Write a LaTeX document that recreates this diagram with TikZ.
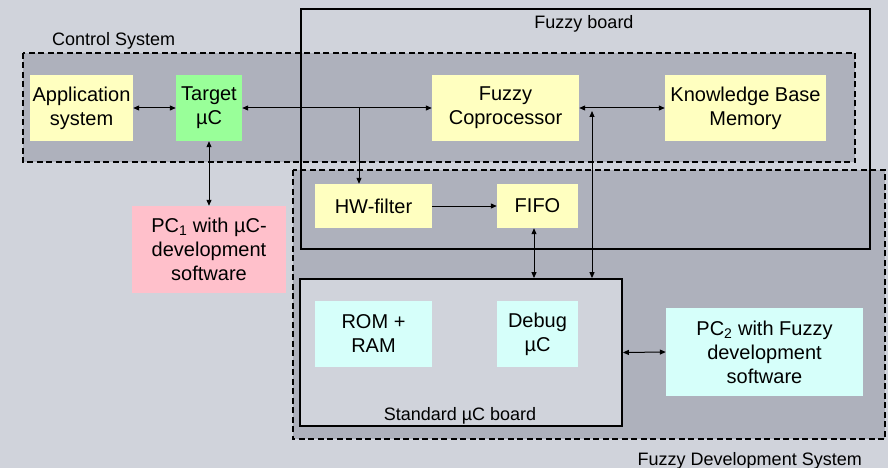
\documentclass[tikz,border=0pt]{standalone}
\usepackage{fontspec}
\setmainfont{Liberation Sans}
\usetikzlibrary{arrows.meta}
\definecolor{bg}{RGB}{208,211,219}
\definecolor{zone}{RGB}{174,177,188}
\definecolor{ylw}{RGB}{255,255,192}
\definecolor{grn}{RGB}{153,255,153}
\definecolor{pnk}{RGB}{255,192,203}
\definecolor{cyn}{RGB}{214,255,250}

\begin{document}
\begin{tikzpicture}[x=1pt,y=-1pt,
  blk/.style={inner sep=0pt, align=center, text=black,
    font=\fontsize{20}{24}\selectfont},
  region/.style={inner sep=0pt, draw=none},
  lbl/.style={inner sep=0pt, font=\fontsize{18}{22}\selectfont},
  frame/.style={line width=1.8pt, draw=black},
  dframe/.style={line width=1.8pt, draw=black, dash pattern=on 6pt off 3.5pt},
  tip/.tip={Triangle[length=6pt,width=5pt]},
  sgl/.style={line width=1pt, -tip},
  dbl/.style={line width=1pt, tip-tip}]

% canvas
\useasboundingbox (0,0) rectangle (888,468);
\fill[bg] (0,0) rectangle (888,468);

% shaded system areas
\node[region, fill=zone, minimum width=832pt, minimum height=109pt] (ctrl) at (439,107.5) {};
\node[region, fill=zone, minimum width=592pt, minimum height=269pt] (fds) at (589,304.5) {};
\node[region, minimum width=569pt, minimum height=240pt] (fboard) at (585.5,129) {};

% outlines of the areas
\draw[frame] (fboard.north west) rectangle (fboard.south east);
\draw[dframe] (ctrl.north west) rectangle (ctrl.south east);
\draw[dframe] (fds.north west) rectangle (fds.south east);
\node[region, fill=bg, frame, minimum width=322pt, minimum height=147pt] (stdboard) at (461,352.5) {};

% area captions
\node[lbl, anchor=base west] (ctrllbl) at (52,46) {Control System};
\node[lbl, anchor=base] (fboardlbl) at (584,29) {Fuzzy board};
\node[lbl, anchor=base] (stdlbl) at (460,420) {Standard µC board};
\node[lbl, anchor=base east] (fdslbl) at (862,465) {Fuzzy Development System};

% functional blocks
\node[blk, fill=ylw, minimum width=103pt, minimum height=66pt] (app) at (81.5,108) {Application\\system};
\node[blk, fill=grn, minimum width=66pt, minimum height=66pt] (target) at (209,108) {Target\\µC};
\node[blk, fill=ylw, minimum width=147pt, minimum height=66pt] (fc) at (505.5,108) {Fuzzy\\Coprocessor};
\node[blk, fill=ylw, minimum width=161pt, minimum height=66pt] (kbm) at (745.5,108) {Knowledge Base\\Memory};
\node[blk, fill=ylw, minimum width=117pt, minimum height=44pt] (hw) at (373.5,206) {HW-filter};
\node[blk, fill=ylw, minimum width=81pt, minimum height=44pt] (fifo) at (537.5,206) {FIFO};
\node[blk, fill=cyn, minimum width=117pt, minimum height=66pt] (rom) at (373.5,334) {ROM +\\RAM};
\node[blk, fill=cyn, minimum width=81pt, minimum height=66pt] (debug) at (537.5,334) {Debug\\µC};
\node[blk, fill=pnk, minimum width=154pt, minimum height=87pt] (pc1) at (209,249.5) {PC\textsubscript{1} with µC-\\development\\software};
\node[blk, fill=cyn, minimum width=197pt, minimum height=88pt] (pc2) at (764.5,352) {PC\textsubscript{2} with Fuzzy\\development\\software};

% connections
\coordinate (tap) at (359,108);
\coordinate (fifox) at (534,0);
\coordinate (bus) at (592,111);

\draw[dbl] (app.east) -- (target.west);
\draw[dbl] (target.east) -- (fc.west);
\draw[sgl] (tap) -- (hw.north -| tap);
\draw[dbl] (target.south) -- (pc1.north);
\draw[sgl] (hw.east) -- (fifo.west);
\draw[dbl] (fifo.south -| fifox) -- (stdboard.north -| fifox);
\draw[dbl] (fc.east) -- (kbm.west);
\draw[dbl] (bus) -- (stdboard.north -| bus);
\draw[dbl] (stdboard.east) -- (pc2.west);
\end{tikzpicture}
\end{document}
